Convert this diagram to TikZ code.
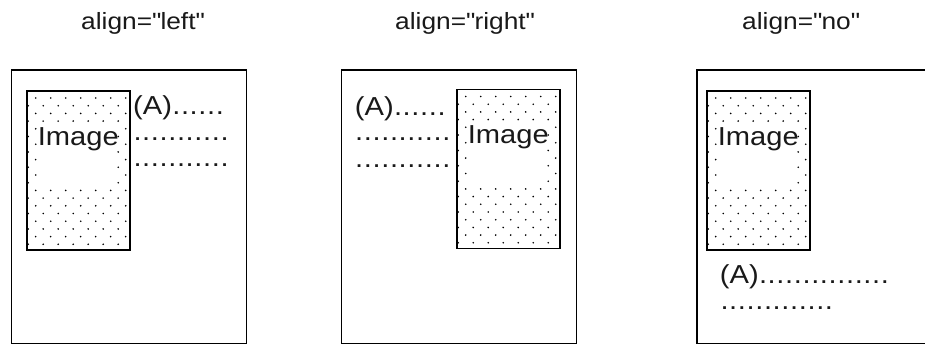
\documentclass[tikz,border=0pt]{standalone}
\usepackage{fontspec}
\setmainfont{Liberation Sans}[FakeStretch=1.12]
\newcommand\ttlfont{\fontsize{23.5pt}{28pt}\selectfont}
\newcommand\bdyfont{\fontsize{26pt}{31pt}\selectfont}
\newcommand\dotbox{\makebox[8.7pt][c]{.}}
\newcommand\qq{\textquotedbl}
\tikzset{
  frame/.style={draw=black,line width=1.8pt},
  imgframe/.style={draw=black,line width=1.9pt},
  patdot/.style={fill=black},
  txt/.style={anchor=base west,inner sep=0pt,font=\bdyfont,text=black!90},
  ttl/.style={anchor=base west,inner sep=0pt,font=\ttlfont,text=black!90},
  imgtext/.style={anchor=base,inner sep=0pt,font=\bdyfont,text=black!90}
}
% #1 left x, #2 top y, #3 node name
\newcommand\imagebox[3]{%
  \begin{scope}
    \clip (#1,#2) rectangle ++(103.3,159);
    \foreach \j in {0,...,19}{
      \pgfmathsetmacro\xo{mod(\j,2)==0 ? 9 : 1.5}
      \foreach \i in {0,...,6}{
        \fill[patdot] ({#1+\xo+15*\i},{#2+7+7.7*\j}) circle (0.9pt);
      }
    }
  \end{scope}
  \fill[white] ({#1+10.5},{#2+32}) rectangle ({#1+90.5},{#2+93});
  \draw[imgframe] (#1,#2) rectangle ++(103.3,159);
  \node[imgtext] (#3) at ({#1+51.65},{#2+54}) {Image};
}
\begin{document}
\begin{tikzpicture}[x=1pt,y=-1pt]
\useasboundingbox (0,0) rectangle (925,345);
% titles
\node[ttl] (t1) at (81,30) {align=\qq left\qq};
\node[ttl] (t2) at (395,30) {align=\qq right\qq};
\node[ttl] (t3) at (742,30) {align=\qq no\qq};
% frames
\draw[frame] (11.5,70) rectangle (246.5,343.5);
\draw[frame] (341.5,70) rectangle (576.5,343.5);
\draw[frame] (697,70) rectangle (940,343.5);
% images
\imagebox{26.7}{91}{img1}
\imagebox{456.7}{89.5}{img2}
\imagebox{706.7}{91}{img3}
% panel 1 text
\node[txt] (p1a) at (133,114.5) {(A)\dotbox\dotbox\dotbox\dotbox\dotbox\dotbox};
\node[txt] (p1b) at (133,140) {\dotbox\dotbox\dotbox\dotbox\dotbox\dotbox\dotbox\dotbox\dotbox\dotbox\dotbox};
\node[txt] (p1c) at (133,166) {\dotbox\dotbox\dotbox\dotbox\dotbox\dotbox\dotbox\dotbox\dotbox\dotbox\dotbox};
% panel 2 text
\node[txt] (p2a) at (354.7,115) {(A)\dotbox\dotbox\dotbox\dotbox\dotbox\dotbox};
\node[txt] (p2b) at (354.7,140) {\dotbox\dotbox\dotbox\dotbox\dotbox\dotbox\dotbox\dotbox\dotbox\dotbox\dotbox};
\node[txt] (p2c) at (354.7,167) {\dotbox\dotbox\dotbox\dotbox\dotbox\dotbox\dotbox\dotbox\dotbox\dotbox\dotbox};
% panel 3 text
\node[txt] (p3a) at (719.7,283) {(A)\dotbox\dotbox\dotbox\dotbox\dotbox\dotbox\dotbox\dotbox\dotbox\dotbox\dotbox\dotbox\dotbox\dotbox\dotbox};
\node[txt] (p3b) at (720,309) {\dotbox\dotbox\dotbox\dotbox\dotbox\dotbox\dotbox\dotbox\dotbox\dotbox\dotbox\dotbox\dotbox};
\end{tikzpicture}
\end{document}
